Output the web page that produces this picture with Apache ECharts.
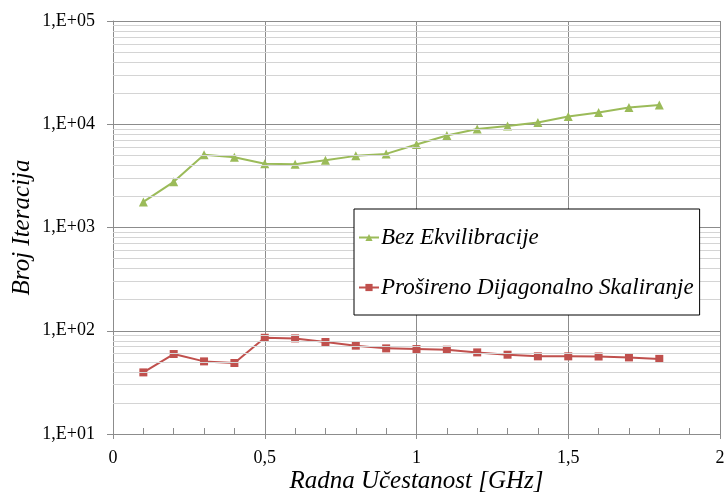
<!DOCTYPE html>
<html><head><meta charset="utf-8">
<script src="https://cdn.jsdelivr.net/npm/echarts@6/dist/echarts.min.js"></script>
<style>html,body{margin:0;padding:0;background:#fff}#c{width:726px;height:493px}</style>
</head><body><div id="c"></div>
<script>
var xValues = [0.1,0.2,0.3,0.4,0.5,0.6,0.7,0.8,0.9,1.0,1.1,1.2,1.3,1.4,1.5,1.6,1.7,1.8];
var bezEkv = [1770,2770,5060,4800,4140,4100,4490,4940,5160,6370,7780,9010,9630,10380,11870,12970,14500,15380];
var prosireno = [39.5,59.5,50.5,48.7,85.5,84.3,77.8,71.7,67.5,66.5,65.5,61.7,58.6,56.5,56.5,56.3,55.2,53.4];
var seriesNames = ['Bez Ekvilibracije','Prošireno Dijagonalno Skaliranje'];
var xTitle = 'Radna Učestanost [GHz]';
var yTitle = 'Broj Iteracija';

var minorLines = [];
[10,100,1000,10000].forEach(function(d){ for (var k=2;k<=9;k++) minorLines.push({yAxis:d*k}); });

var font = 'Liberation Serif';
var chart = echarts.init(document.getElementById('c'));
chart.setOption({
  animation:false,
  backgroundColor:'#fff',
  grid:{left:113,right:6,top:21,bottom:59,containLabel:false,outerBoundsMode:'none'},
  xAxis:[{
    type:'value',min:0,max:2,interval:0.5,
    axisLine:{show:true,lineStyle:{color:'#8c8c8c',width:1}},
    axisTick:{show:true,length:5,lineStyle:{color:'#8c8c8c'}},
    axisLabel:{color:'#000',fontFamily:font,fontSize:18,margin:15,
      formatter:function(v){return String(v).replace('.',',');}},
    splitLine:{show:true,lineStyle:{color:'#8c8c8c',width:1}},
    name:xTitle,nameLocation:'middle',nameGap:35,nameMoveOverlap:false,
    nameTextStyle:{color:'#000',fontFamily:font,fontStyle:'italic',fontSize:25,verticalAlign:'top'}
  },{
    type:'value',min:0,max:2,interval:0.1,position:'bottom',
    axisLine:{show:false},
    axisTick:{show:true,inside:true,length:6,lineStyle:{color:'#8c8c8c'}},
    axisLabel:{show:false},splitLine:{show:false}
  }],
  yAxis:{
    type:'log',logBase:10,min:10,max:100000,
    axisLine:{show:true,lineStyle:{color:'#8c8c8c'}},
    axisTick:{show:true,length:6,lineStyle:{color:'#8c8c8c'}},
    axisLabel:{color:'#000',fontFamily:font,fontSize:18,margin:18,
      formatter:function(v){var e=Math.round(Math.log10(v));return '1,E+'+(e<10?'0':'')+e;}},
    splitLine:{show:true,lineStyle:{color:'#8c8c8c',width:1}},
    name:yTitle,nameLocation:'middle',nameGap:78,nameRotate:90,nameMoveOverlap:false,
    nameTextStyle:{color:'#000',fontFamily:font,fontStyle:'italic',fontSize:25}
  },
  legend:{
    orient:'vertical',left:354,top:209,z:20,
    data:seriesNames,
    backgroundColor:'#fff',borderColor:'#000',borderWidth:1,
    padding:[17,6,16,4],itemGap:27,itemWidth:20,itemHeight:9,
    textStyle:{color:'#000',fontFamily:font,fontStyle:'italic',fontSize:23,padding:[0,0,0,-3]}
  },
  series:[{
    type:'line',name:'_grid',data:[],silent:true,z:1,
    markLine:{silent:true,symbol:'none',label:{show:false},animation:false,
      lineStyle:{color:'#d4d4d4',width:1,type:'solid'},data:minorLines}
  },{
    type:'line',name:seriesNames[0],z:3,
    data:xValues.map(function(x,i){return [x,bezEkv[i]];}),
    symbol:'triangle',symbolSize:9,
    lineStyle:{color:'#9BBB59',width:2},itemStyle:{color:'#9BBB59'}
  },{
    type:'line',name:seriesNames[1],z:3,
    data:xValues.map(function(x,i){return [x,prosireno[i]];}),
    symbol:'rect',symbolSize:8,
    lineStyle:{color:'#C0504D',width:2},itemStyle:{color:'#C0504D'}
  }]
});
</script></body></html>
